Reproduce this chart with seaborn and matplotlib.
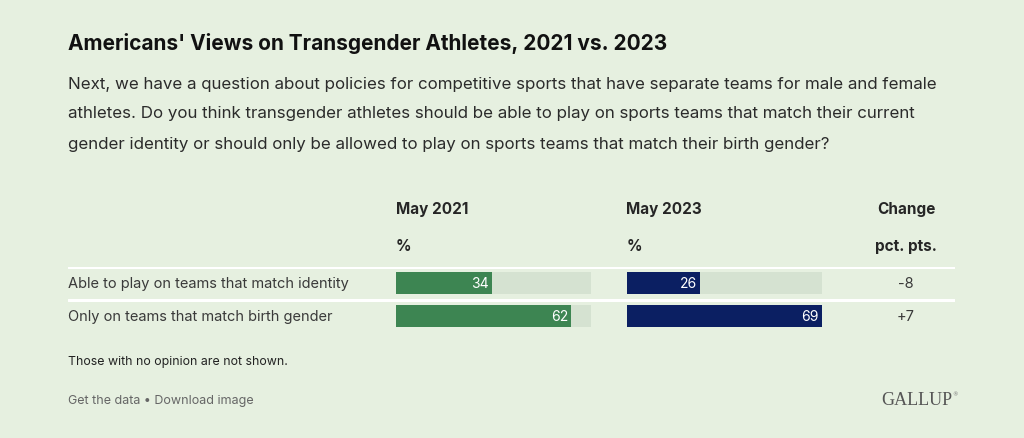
import seaborn as sns
import matplotlib.pyplot as plt
import pandas as pd

# Survey data
categories = ["Able to play on teams that match identity",
              "Only on teams that match birth gender"]
may_2021 = [34, 62]
may_2023 = [26, 69]
change = [b - a for a, b in zip(may_2021, may_2023)]

W, H = 1024, 439
BG = "#e6f0e0"
TRACK = "#d5e2d1"
GREEN = "#3d8552"
NAVY = "#0b1f62"

sns.set_theme(style="white")
plt.rcParams["font.family"] = ["Inter", "DejaVu Sans"]


def px(x, y):
    # pixel coords (top-left origin) -> figure fraction
    return x / W, 1 - y / H


def rect(x0, y0, x1, y1):
    return [x0 / W, 1 - y1 / H, (x1 - x0) / W, (y1 - y0) / H]


fig = plt.figure(figsize=(W / 100, H / 100), dpi=100, facecolor=BG)

# table axis: separators, row labels, change column
ax_tab = fig.add_axes(rect(68, 268, 955, 333))
ax_tab.set_xlim(0, 1)
ax_tab.set_ylim(1.5, -0.5)
ax_tab.axis("off")
for yy in [-0.5, 0.5]:
    ax_tab.axhline(yy, color="white", lw=2.2, zorder=1)
for i, cat in enumerate(categories):
    ax_tab.text(0, i, cat, ha="left", va="center", fontsize=10.5, color="#3a3a3a")
    label = f"+{change[i]}" if change[i] > 0 else str(change[i])
    ax_tab.text((906 - 68) / (955 - 68), i, label,
                ha="center", va="center", fontsize=10.5, color="#3a3a3a")

df = pd.DataFrame({"category": categories, "May 2021": may_2021, "May 2023": may_2023})
track_max = max(max(may_2021), max(may_2023))
df["track"] = track_max

panels = [("May 2021", GREEN, 395.5), ("May 2023", NAVY, 626.5)]
for col, color, left in panels:
    ax = fig.add_axes(rect(left, 268, left + 195.5, 333))
    ax.set_facecolor("none")
    sns.barplot(data=df, x="track", y="category", color=TRACK, width=0.68,
                saturation=1, linewidth=0, ax=ax, zorder=2)
    sns.barplot(data=df, x=col, y="category", color=color, width=0.68,
                saturation=1, linewidth=0, ax=ax, zorder=3)
    ax.set_xlim(0, track_max)
    ax.set_ylim(1.5, -0.5)
    ax.axis("off")
    for i, v in enumerate(df[col]):
        ax.text(v - 1.1, i, str(v), ha="right", va="center", fontsize=10,
                color="white", zorder=4)
    fig.text(*px(left, 210), col, ha="left", va="center", fontsize=11,
             fontweight="bold", color="#262626")
    fig.text(*px(left, 247), "%", ha="left", va="center", fontsize=11,
             fontweight="bold", color="#262626")

fig.text(*px(906, 210), "Change", ha="center", va="center", fontsize=11,
         fontweight="bold", color="#262626")
fig.text(*px(906, 247), "pct. pts.", ha="center", va="center", fontsize=11,
         fontweight="bold", color="#262626")

# titles
fig.text(*px(68, 43), "Americans' Views on Transgender Athletes, 2021 vs. 2023",
         ha="left", va="center", fontsize=15, fontweight="bold", color="#111111")
subtitle = ["Next, we have a question about policies for competitive sports that have separate teams for male and female",
            "athletes. Do you think transgender athletes should be able to play on sports teams that match their current",
            "gender identity or should only be allowed to play on sports teams that match their birth gender?"]
for k, line in enumerate(subtitle):
    fig.text(*px(68, 84 + 30 * k), line, ha="left", va="center", fontsize=12.2,
             color="#2b2b2b")

# footer
fig.text(*px(68, 362), "Those with no opinion are not shown.", ha="left", va="center",
         fontsize=8.9, color="#222222")
fig.text(*px(68, 401), "Get the data \u2022 Download image", ha="left", va="center",
         fontsize=9.0, color="#666666")
fig.text(*px(952, 401), "GALLUP", ha="right", va="center", fontsize=13,
         family="Liberation Serif", color="#555555")
fig.text(*px(952, 395), "\u00ae", ha="left", va="center", fontsize=4,
         family="DejaVu Sans", color="#777777")

fig.savefig("out.png", dpi=100, facecolor=BG)
